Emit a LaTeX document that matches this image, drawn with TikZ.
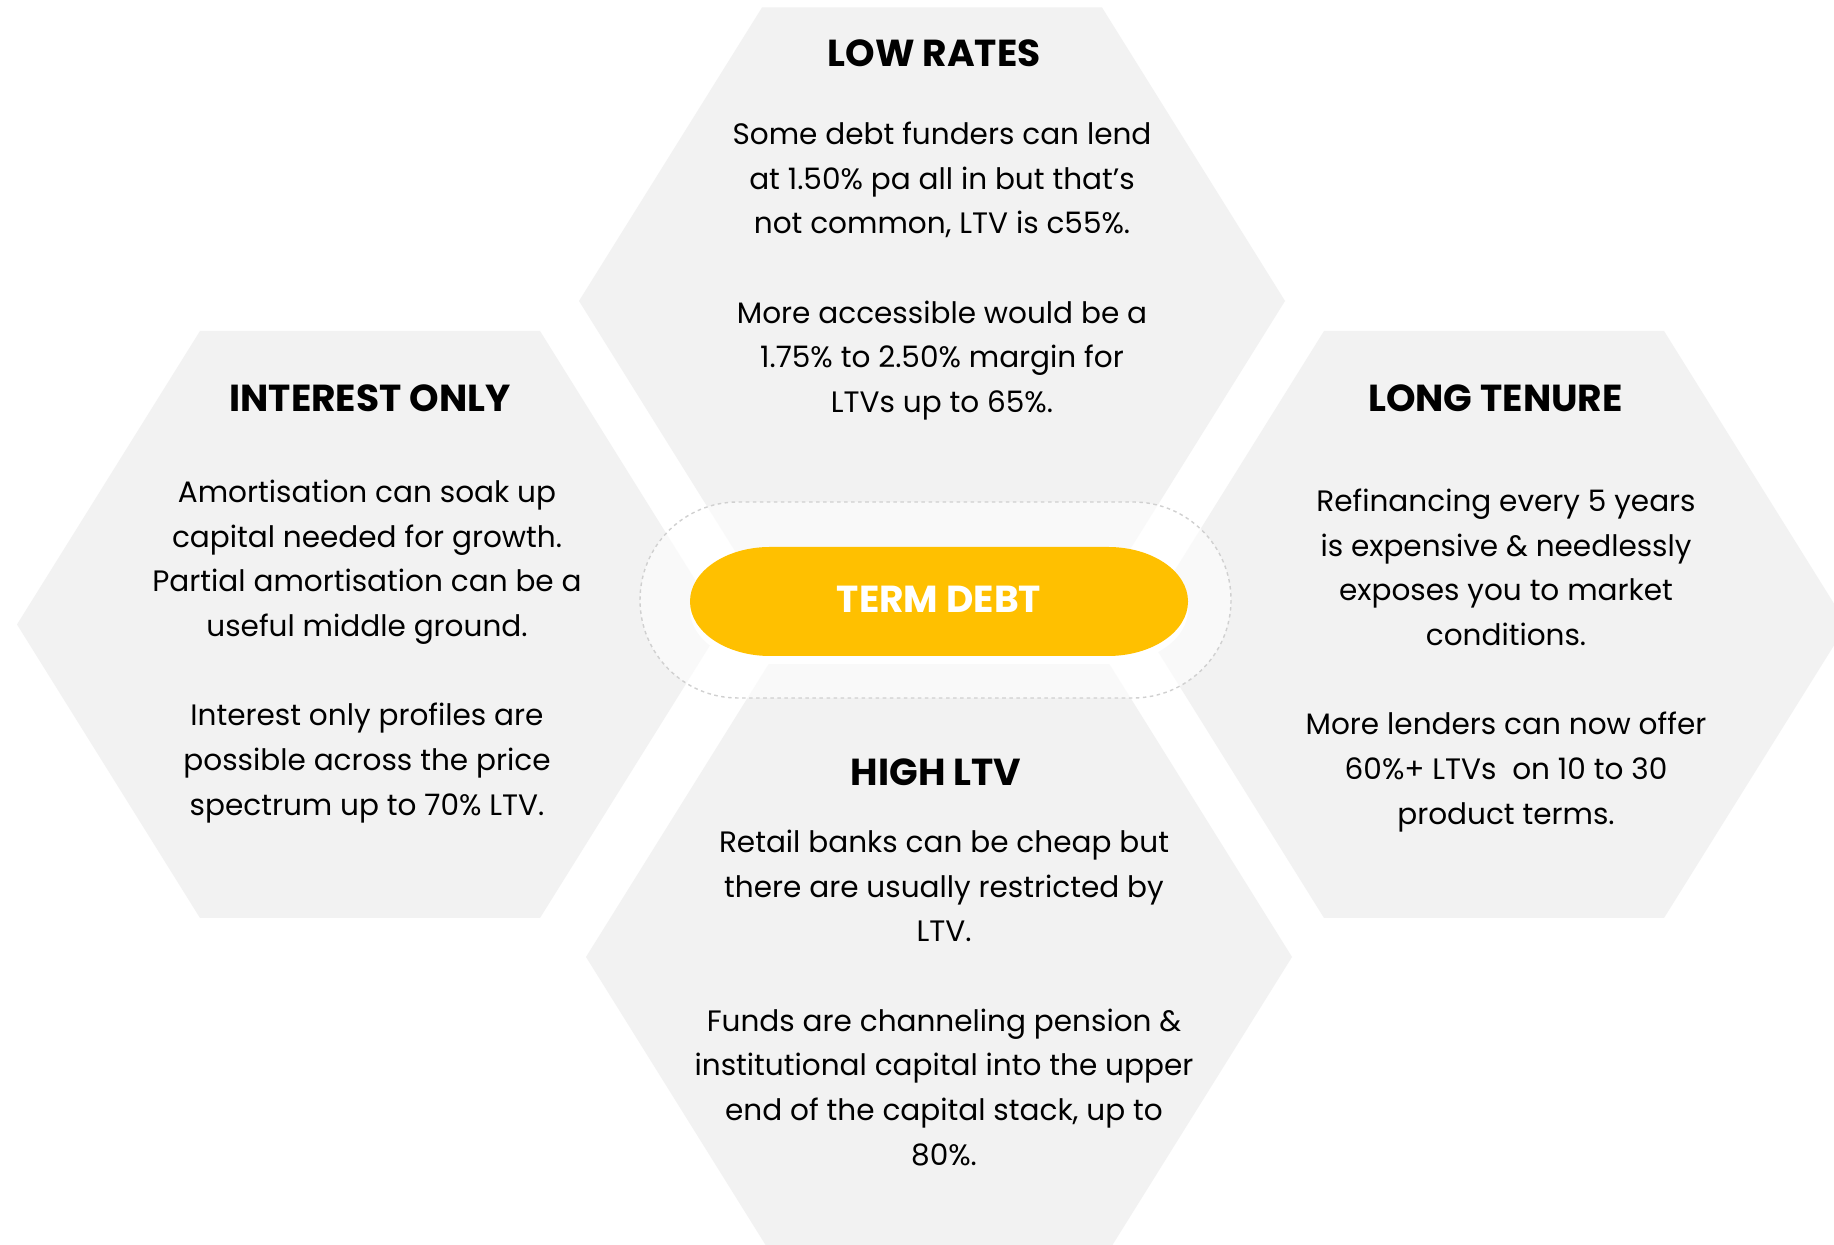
\documentclass[tikz,border=0pt]{standalone}
\usepackage{fontspec}
\setmainfont{Poppins}

\definecolor{hexgray}{HTML}{F2F2F2}
\definecolor{termgold}{HTML}{FFC000}
\definecolor{ringgray}{HTML}{D0D0D0}

\tikzset{
  hexcell/.pic={\fill[hexgray] (-3.53,0) -- (-1.70,2.935) -- (1.70,2.935) -- (3.53,0)
     -- (1.70,-2.935) -- (-1.70,-2.935) -- cycle;},
  termpill/.pic={\fill[pic actions] (-1.69,-0.545) -- (1.69,-0.545)
     arc[start angle=-90,end angle=90,x radius=0.8,y radius=0.545] -- (-1.69,0.545)
     arc[start angle=90,end angle=270,x radius=0.8,y radius=0.545] -- cycle;},
  heading/.style={font=\bfseries\fontsize{10.7}{12}\selectfont},
  bodytext/.style={align=center, font=\fontsize{8.4}{12.72}\selectfont},
}

\begin{document}
\begin{tikzpicture}
\useasboundingbox (0,0) rectangle (18.34,12.45);
\clip (0,0) rectangle (18.34,12.45);
\fill[white] (0,0) rectangle (18.34,12.45);

% the four cells
\pic at (9.32,9.44) {hexcell};
\pic at (3.70,6.205) {hexcell};
\pic at (14.94,6.205) {hexcell};
\pic at (9.39,2.88) {hexcell};

% centre
\draw[ringgray, fill=white, fill opacity=0.6, dash pattern=on 1pt off 1pt,
  line width=0.4pt, rounded corners=0.98cm] (6.40,5.47) rectangle (12.31,7.43);
\pic[white] at (9.39,6.355) {termpill};
\pic[termgold] at (9.39,6.435) {termpill};
\node[heading, text=white] (termdebt) at (9.39,6.46) {TERM DEBT};

\node[heading] (lowrates) at (9.34,11.92) {LOW RATES};
\node[bodytext] (lowratestext) at (9.42,9.74) {Some debt funders can lend\\
  at 1.50\% pa all in but that’s\\ not common, LTV is c55\%.\\[12.72pt]
  More accessible would be a\\ 1.75\% to 2.50\% margin for\\ LTVs up to 65\%.};

\node[heading] (interest) at (3.70,8.47) {INTEREST ONLY};
\node[bodytext] (interesttext) at (3.67,5.935) {Amortisation can soak up\\
  capital needed for growth.\\ Partial amortisation can be a\\ useful middle ground.\\[12.72pt]
  Interest only profiles are\\ possible across the price\\ spectrum up to 70\% LTV.};

\node[heading] (tenure) at (14.955,8.47) {LONG TENURE};
\node[bodytext] (tenuretext) at (15.06,5.845) {Refinancing every 5 years\\
  is expensive \& needlessly\\ exposes you to market\\ conditions.\\[12.72pt]
  More lenders can now offer\\ 60\%+ LTVs~ on 10 to 30\\ product terms.};

\node[heading] (highltv) at (9.36,4.73) {HIGH LTV};
\node[bodytext] (highltvtext) at (9.44,2.47) {Retail banks can be cheap but\\
  there are usually restricted by\\ LTV.\\[12.72pt]
  Funds are channeling pension \&\\ institutional capital into the upper\\
  end of the capital stack, up to\\ 80\%.};
\end{tikzpicture}
\end{document}
